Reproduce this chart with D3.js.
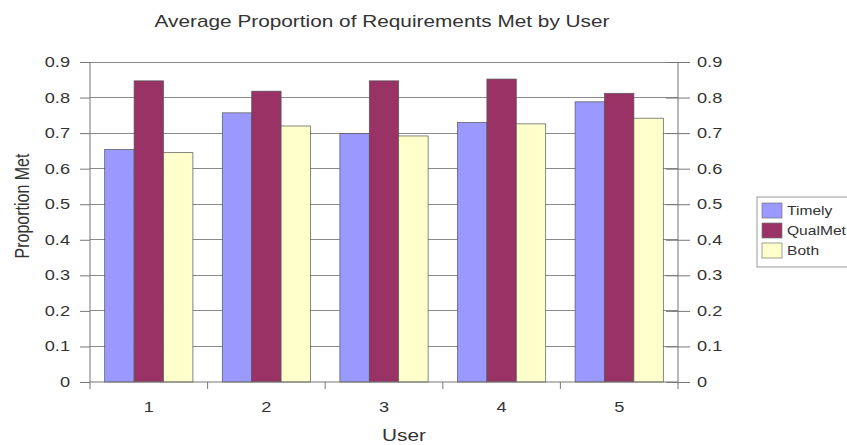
<!DOCTYPE html>
<html><head><meta charset="utf-8">
<script src="https://cdn.jsdelivr.net/npm/d3@7/dist/d3.min.js"></script>
<style>body{margin:0;background:#fff}svg{display:block}text{font-family:"Liberation Sans",Arial,sans-serif;fill:#333}</style>
</head><body><svg id="c" width="847" height="445"></svg>
<script>
const categories = ["1","2","3","4","5"];
const seriesNames = ["Timely","QualMet","Both"];
const timely  = [0.654, 0.757, 0.699, 0.730, 0.788];
const qualMet = [0.847, 0.818, 0.847, 0.852, 0.812];
const both    = [0.645, 0.720, 0.692, 0.726, 0.742];
const yTicks  = [0,0.1,0.2,0.3,0.4,0.5,0.6,0.7,0.8,0.9];
const colors  = ["#9999FF","#993366","#FFFFCC"];
const title = "Average Proportion of Requirements Met by User";
const yTitle = "Proportion Met";
const xTitle = "User";

const SX = 1.3; // horizontal stretch of the original picture
const series = [timely, qualMet, both];
const svg = d3.select("#c");
const L = 90, R = 678, T = 62, B = 382;

const x0 = d3.scaleBand().domain(categories).range([L, R]).paddingInner(0).paddingOuter(0);
const x1 = d3.scaleBand().domain(seriesNames).range([0, x0.bandwidth()]).paddingInner(0).paddingOuter(0.5);
const y = d3.scaleLinear().domain([0, 0.9]).range([B, T]);
const fmt = d => String(+d.toFixed(1));

function stretch(sel) {
  sel.each(function() {
    const t = d3.select(this);
    const xx = +t.attr("x") || 0, yy = +t.attr("y") || 0;
    t.attr("x", 0).attr("y", 0).attr("transform", `translate(${xx},${yy}) scale(${SX},1)`);
  });
}

// gridlines
svg.append("g").selectAll("line").data(yTicks.slice(1)).join("line")
  .attr("x1", L).attr("x2", R).attr("y1", d => y(d)).attr("y2", d => y(d))
  .attr("stroke", "#8a8a8a").attr("stroke-width", 1).attr("shape-rendering","crispEdges");

// bars
const g = svg.append("g");
categories.forEach((c, i) => {
  seriesNames.forEach((s, j) => {
    g.append("rect")
      .attr("x", x0(c) + x1(s)).attr("width", x1.bandwidth())
      .attr("y", y(series[j][i])).attr("height", B - y(series[j][i]))
      .attr("fill", colors[j]).attr("stroke", "#555").attr("stroke-width", 0.7);
  });
});

// left axis
const yl = svg.append("g").attr("transform", `translate(${L},0)`)
  .call(d3.axisLeft(y).tickValues(yTicks).tickSize(10).tickPadding(10).tickFormat(fmt));
// right axis
const yr = svg.append("g").attr("transform", `translate(${R},0)`)
  .call(d3.axisRight(y).tickValues(yTicks).tickSize(12).tickPadding(7).tickFormat(fmt));
[yl, yr].forEach(a => {
  a.select(".domain").attr("stroke", "#777").attr("d", `M0,${B}V${T}`);
  a.selectAll(".tick line").attr("stroke", "#777");
  a.selectAll("text").style("font-size", "14px").attr("fill", "#444").call(stretch);
});
yr.selectAll(".tick line").attr("x1", -12);

// bottom axis
const xa = svg.append("g").attr("transform", `translate(0,${B})`)
  .call(d3.axisBottom(x0).tickSize(0).tickPadding(20));
xa.select(".domain").attr("stroke", "#777").attr("d", `M${L},0H${R}`);
xa.selectAll("text").style("font-size", "14px").attr("fill", "#444").attr("dy", null).call(stretch);
xa.append("g").selectAll("line").data(d3.range(categories.length + 1)).join("line")
  .attr("x1", i => L + i * x0.step()).attr("x2", i => L + i * x0.step())
  .attr("y1", 0).attr("y2", 7).attr("stroke", "#777");
xa.selectAll(".tick text").each(function() {
  const t = d3.select(this);
  t.attr("transform", t.attr("transform").replace(/translate\(([^,]+),[^)]+\)/, "translate($1,30)"));
});

// titles
svg.append("text").attr("transform", `translate(382,27) scale(${SX},1)`).attr("text-anchor", "middle")
  .style("font-size", "16px").text(title);
svg.append("text").attr("transform", `translate(29,206) rotate(-90) scale(1,${SX})`).attr("text-anchor", "middle")
  .style("font-size", "16px").text(yTitle);
svg.append("text").attr("transform", `translate(404,441) scale(${SX},1)`).attr("text-anchor", "middle")
  .style("font-size", "16px").text(xTitle);

// legend
const lg = svg.append("g").attr("transform", "translate(757,197)");
lg.append("rect").attr("x", 0).attr("y", 0).attr("width", 110).attr("height", 70)
  .attr("fill", "#fff").attr("stroke", "#999");
seriesNames.forEach((s, j) => {
  lg.append("rect").attr("x", 5).attr("y", 6 + j * 20).attr("width", 20).attr("height", 15)
    .attr("fill", colors[j]).attr("stroke", "#777").attr("stroke-width", 0.7);
  lg.append("text").attr("transform", `translate(30,${18 + j * 20}) scale(${SX},1)`)
    .style("font-size", "12px").attr("fill", "#444").text(s);
});
</script></body></html>
